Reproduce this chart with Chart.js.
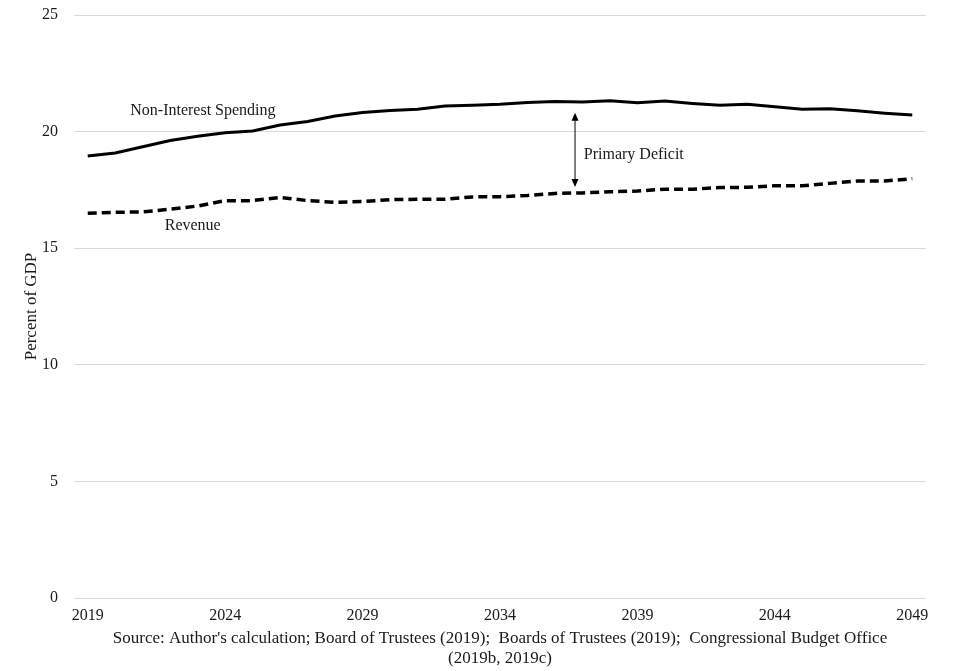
<!DOCTYPE html>
<html>
<head>
<meta charset="utf-8">
<script src="https://cdn.jsdelivr.net/npm/chart.js@4"></script>
<style>
  html, body { margin: 0; padding: 0; background: #fff; }
  #wrap { width: 977px; height: 671px; }
</style>
</head>
<body>
<div id="wrap"><canvas id="c" width="977" height="671"></canvas></div>
<script>
const years = [];
for (let y = 2019; y <= 2049; y++) years.push(String(y));

const nonInterestSpending = [18.95, 19.08, 19.35, 19.62, 19.80, 19.95, 20.03, 20.28, 20.43, 20.67, 20.82,
  20.90, 20.96, 21.10, 21.13, 21.17, 21.25, 21.29, 21.27, 21.32, 21.24, 21.31, 21.21, 21.13, 21.17,
  21.07, 20.96, 20.98, 20.89, 20.79, 20.71];
const revenue = [16.50, 16.54, 16.56, 16.67, 16.81, 17.04, 17.04, 17.18, 17.04, 16.97, 17.00,
  17.08, 17.10, 17.10, 17.20, 17.21, 17.26, 17.35, 17.37, 17.42, 17.45, 17.53, 17.53, 17.60, 17.61,
  17.68, 17.68, 17.78, 17.88, 17.88, 17.98];
const yTicks = [0, 5, 10, 15, 20, 25];
const sourceNote = ["Source: Author's calculation; Board of Trustees (2019);  Boards of Trustees (2019);  Congressional Budget Office", "(2019b, 2019c)"];

const serif = "'Liberation Serif', 'Times New Roman', serif";
const textColor = '#1a1a1a';

const annotations = {
  id: 'annotations',
  afterDatasetsDraw(chart) {
    const {ctx, scales: {x, y}} = chart;
    ctx.save();
    ctx.fillStyle = textColor;
    ctx.font = "16px " + serif;
    ctx.textBaseline = 'middle';
    ctx.textAlign = 'center';
    ctx.fillText('Non-Interest Spending', x.getPixelForValue(4.19), y.getPixelForValue(20.88));
    ctx.fillText('Revenue', x.getPixelForValue(3.82), y.getPixelForValue(15.95));
    ctx.textAlign = 'left';
    ctx.fillText('Primary Deficit', x.getPixelForValue(18.05), y.getPixelForValue(19.0));
    // double arrow
    const ax = x.getPixelForValue(17.73);
    const y1 = y.getPixelForValue(20.81);
    const y2 = y.getPixelForValue(17.62);
    ctx.strokeStyle = '#000';
    ctx.fillStyle = '#000';
    ctx.lineWidth = 1;
    ctx.beginPath();
    ctx.moveTo(ax, y1 + 6);
    ctx.lineTo(ax, y2 - 6);
    ctx.stroke();
    ctx.beginPath();
    ctx.moveTo(ax, y1); ctx.lineTo(ax - 3.5, y1 + 8); ctx.lineTo(ax + 3.5, y1 + 8); ctx.closePath();
    ctx.fill();
    ctx.beginPath();
    ctx.moveTo(ax, y2); ctx.lineTo(ax - 3.5, y2 - 8); ctx.lineTo(ax + 3.5, y2 - 8); ctx.closePath();
    ctx.fill();
    ctx.restore();
  }
};

new Chart(document.getElementById('c'), {
  type: 'line',
  data: {
    labels: years,
    datasets: [
      {
        label: 'Non-Interest Spending',
        data: nonInterestSpending,
        borderColor: '#000',
        borderWidth: 3,
        pointRadius: 0,
        tension: 0,
        fill: false
      },
      {
        label: 'Revenue',
        data: revenue,
        borderColor: '#000',
        borderWidth: 3.5,
        borderDash: [9, 5],
        pointRadius: 0,
        tension: 0,
        fill: false
      }
    ]
  },
  options: {
    responsive: false,
    animation: false,
    devicePixelRatio: 1,
    layout: { padding: { left: 0, right: 51, top: 15, bottom: 0 } },
    plugins: {
      legend: { display: false },
      tooltip: { enabled: false }
    },
    scales: {
      x: {
        offset: true,
        grid: { display: false, drawTicks: false },
        border: { display: false },
        ticks: {
          autoSkip: false,
          maxRotation: 0,
          padding: 8,
          color: textColor,
          font: { family: serif, size: 16 },
          callback: function(v, i) { return i % 5 === 0 ? years[i] : null; }
        },
        title: {
          display: true,
          text: sourceNote,
          color: textColor,
          font: { family: serif, size: 17, lineHeight: 1.2 },
          padding: { top: 0, bottom: 2 }
        },
        afterFit(scale) { scale.height = 73; scale.paddingLeft = 0; scale.paddingRight = 0; }
      },
      y: {
        min: 0,
        max: 25,
        afterBuildTicks(scale) { scale.ticks = yTicks.map(v => ({ value: v })); },
        grid: { color: '#d9d9d9', lineWidth: 1, drawTicks: false },
        border: { display: false },
        ticks: {
          padding: 16,
          color: textColor,
          font: { family: serif, size: 16 }
        },
        title: {
          display: true,
          text: 'Percent of GDP',
          color: textColor,
          font: { family: serif, size: 17 },
          padding: { top: 21, bottom: 0 }
        },
        afterFit(scale) { scale.width = 74; scale.paddingTop = 0; scale.paddingBottom = 0; }
      }
    }
  },
  plugins: [annotations]
});
</script>
</body>
</html>
